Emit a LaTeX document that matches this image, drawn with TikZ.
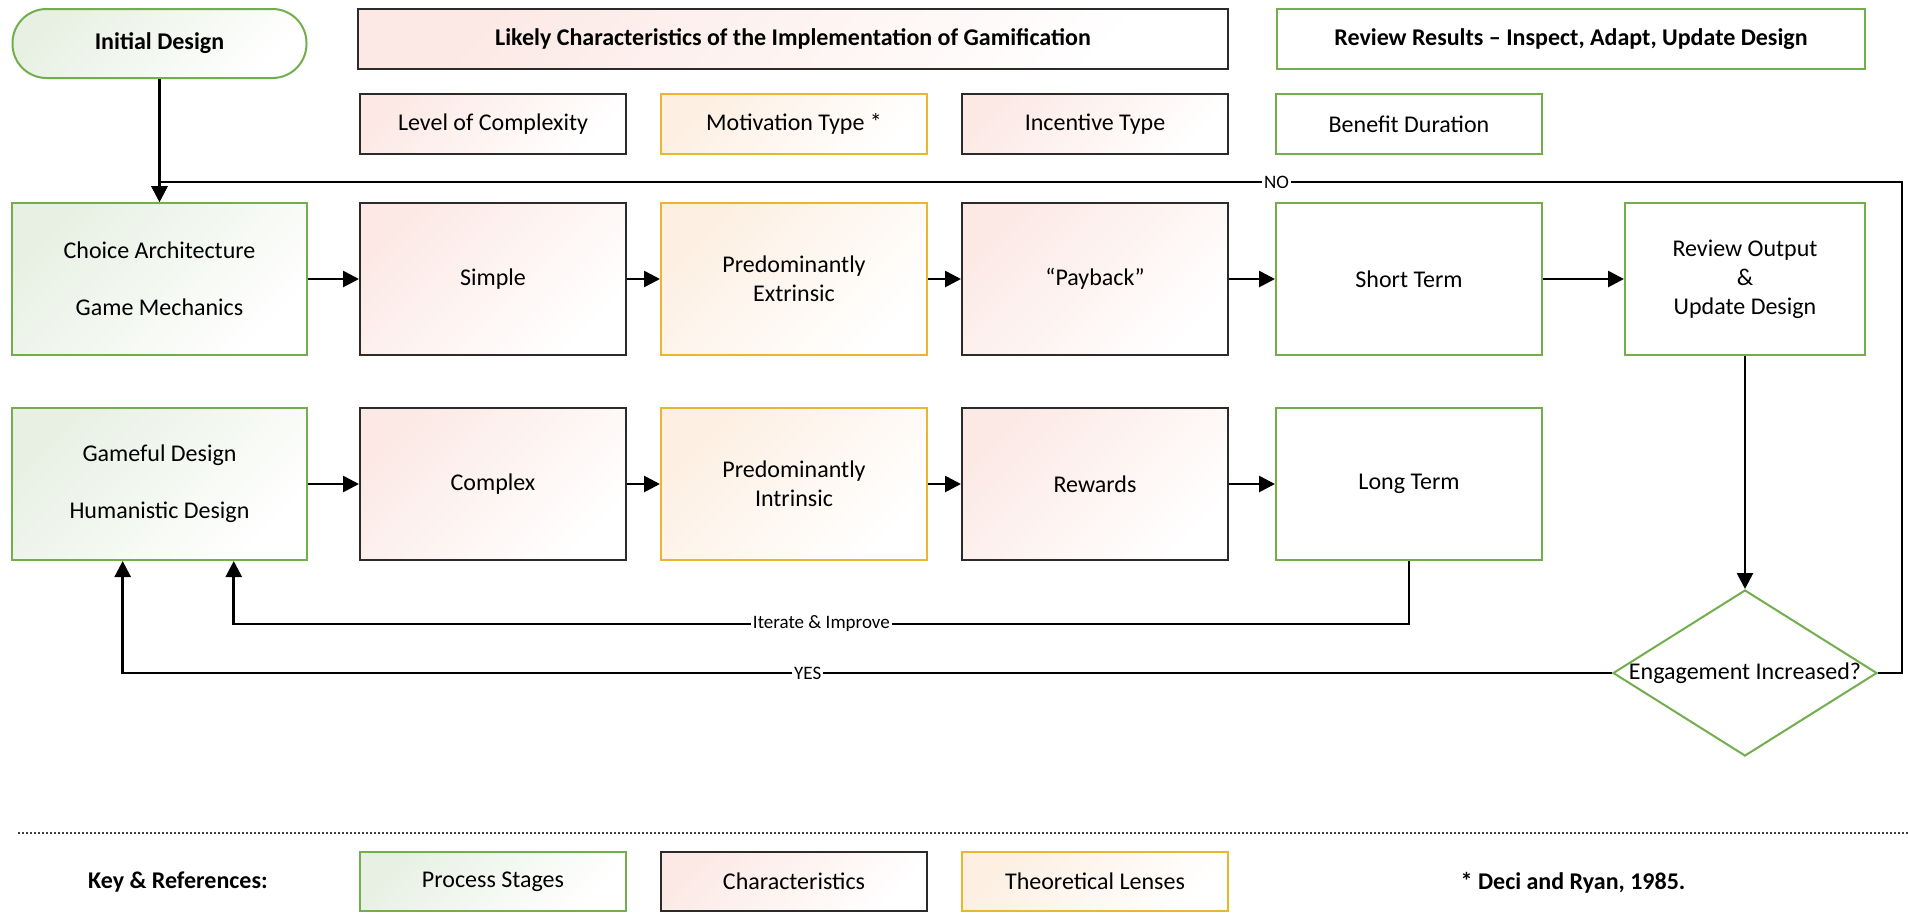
\documentclass[tikz,border=0pt]{standalone}
\usepackage{fontspec}
\setmainfont{Carlito}
\usetikzlibrary{arrows.meta,shapes.geometric,calc}

\definecolor{stageline}{HTML}{72AE4C}
\definecolor{stagetint}{HTML}{E8F0E3}
\definecolor{charline}{HTML}{2B2B2B}
\definecolor{chartint}{HTML}{FCE9E5}
\definecolor{lensline}{HTML}{E8B631}
\definecolor{lenstint}{HTML}{FDEFE2}

\tikzset{
  box/.style={draw, line width=1pt, align=center, inner sep=0pt,
    font=\fontsize{12}{14.4}\selectfont},
  stagebox/.style={box, draw=stageline, fill=white},
  stageshade/.style={box, draw=stageline, top color=stagetint, bottom color=white, shading angle=45},
  charbox/.style={box, draw=charline, top color=chartint, bottom color=white, shading angle=45},
  lensbox/.style={box, draw=lensline, top color=lenstint, bottom color=white, shading angle=45},
  headbox/.style={minimum height=30pt, font=\fontsize{12}{14.4}\selectfont\bfseries},
  keybox/.style={minimum width=133pt, minimum height=29.5pt},
  bigbox/.style={minimum width=133pt, minimum height=76pt},
  flow/.style={line width=1.35pt, -{Triangle[length=8pt,width=8pt]}},
  edgelabel/.style={fill=white, inner sep=1pt, font=\fontsize{9.5}{11}\selectfont},
  plaintext/.style={inner sep=0pt, font=\fontsize{12}{14.4}\selectfont},
}

\begin{document}
\begin{tikzpicture}[x=0.5pt, y=-0.5pt]
\useasboundingbox (0,0) rectangle (1908,912);

% header row
\node[stageshade, headbox, rounded corners=17pt, minimum width=147pt, minimum height=34.5pt] (init) at (159.5,43.5) {Initial Design};
\node[charbox, headbox, minimum width=435pt] (likely) at (793,39) {Likely Characteristics of the Implementation of Gamification};
\node[stagebox, headbox, minimum width=294pt] (review) at (1571,39) {Review Results – Inspect, Adapt, Update Design};

% column titles
\node[charbox, keybox, minimum height=30pt] (complexity) at (493,124) {Level of Complexity};
\node[lensbox, keybox, minimum height=30pt] (motivation) at (794,124) {Motivation Type *};
\node[charbox, keybox, minimum height=30pt] (incentive) at (1095,124) {Incentive Type};
\node[stagebox, keybox, minimum height=30pt] (duration) at (1409,124) {Benefit Duration};

% first row
\node[stageshade, bigbox, minimum width=147.5pt] (choice) at (159.5,279) {Choice Architecture\\[14pt]Game Mechanics};
\node[charbox, bigbox] (simple) at (493,279) {Simple};
\node[lensbox, bigbox] (extrinsic) at (794,279) {Predominantly\\Extrinsic};
\node[charbox, bigbox] (payback) at (1095,279) {“Payback”};
\node[stagebox, bigbox] (short) at (1409,279) {Short Term};
\node[stagebox, bigbox, minimum width=120pt] (output) at (1745,279) {Review Output\\\&\\Update Design};

% second row
\node[stageshade, bigbox, minimum width=147.5pt] (gameful) at (159.5,484) {Gameful Design\\[14pt]Humanistic Design};
\node[charbox, bigbox] (complex) at (493,484) {Complex};
\node[lensbox, bigbox] (intrinsic) at (794,484) {Predominantly\\Intrinsic};
\node[charbox, bigbox] (rewards) at (1095,484) {Rewards};
\node[stagebox, bigbox] (long) at (1409,484) {Long Term};

% decision
\node[diamond, draw=stageline, line width=1pt, fill=white, minimum width=132pt, minimum height=83pt, inner sep=0pt] (engage) at (1745,673) {};
\node[plaintext] (engagetext) at (engage.center) {Engagement Increased?};

% connectors
\coordinate (noCorner) at (1902,182);
\coordinate (loopLow) at (0,624);
\coordinate (iterIn) at ($(gameful.south west)!0.75!(gameful.south east)$);
\coordinate (yesIn) at ($(gameful.south west)!0.376!(gameful.south east)$);

\draw[flow] (init.south) -- (choice.north);
\draw[flow] (choice) -- (simple);
\draw[flow] (simple) -- (extrinsic);
\draw[flow] (extrinsic) -- (payback);
\draw[flow] (payback) -- (short);
\draw[flow] (short) -- (output);
\draw[flow] (gameful) -- (complex);
\draw[flow] (complex) -- (intrinsic);
\draw[flow] (intrinsic) -- (rewards);
\draw[flow] (rewards) -- (long);
\draw[flow] (output.south) -- (engage.north);
\draw[flow] (engage.east) -| (noCorner) -- node[edgelabel, pos=0.359] {NO} (noCorner -| choice.north) -- (choice.north);
\draw[flow] (long.south) -- (long.south |- loopLow) -| node[edgelabel, pos=0.25] {Iterate \& Improve} (iterIn);
\draw[flow] (engage.west) -| node[edgelabel, pos=0.27] {YES} (yesIn);

% separator
\coordinate (sepL) at (18,833);
\coordinate (sepR) at (1908,833);
\draw[line width=0.9pt, draw=black!75, dash pattern=on 0.8pt off 1.2pt] (sepL) -- (sepR);

% key
\node[plaintext, font=\fontsize{12}{14.4}\selectfont\bfseries] (keytitle) at (178,882) {Key \& References:};
\node[stageshade, keybox] (keystage) at (493,881.5) {Process Stages};
\node[charbox, keybox] (keychar) at (794,881.5) {Characteristics};
\node[lensbox, keybox] (keylens) at (1095,881.5) {Theoretical Lenses};
\node[plaintext, font=\fontsize{12}{14.4}\selectfont\bfseries] (reference) at (1573,883) {* Deci and Ryan, 1985.};
\end{tikzpicture}
\end{document}
